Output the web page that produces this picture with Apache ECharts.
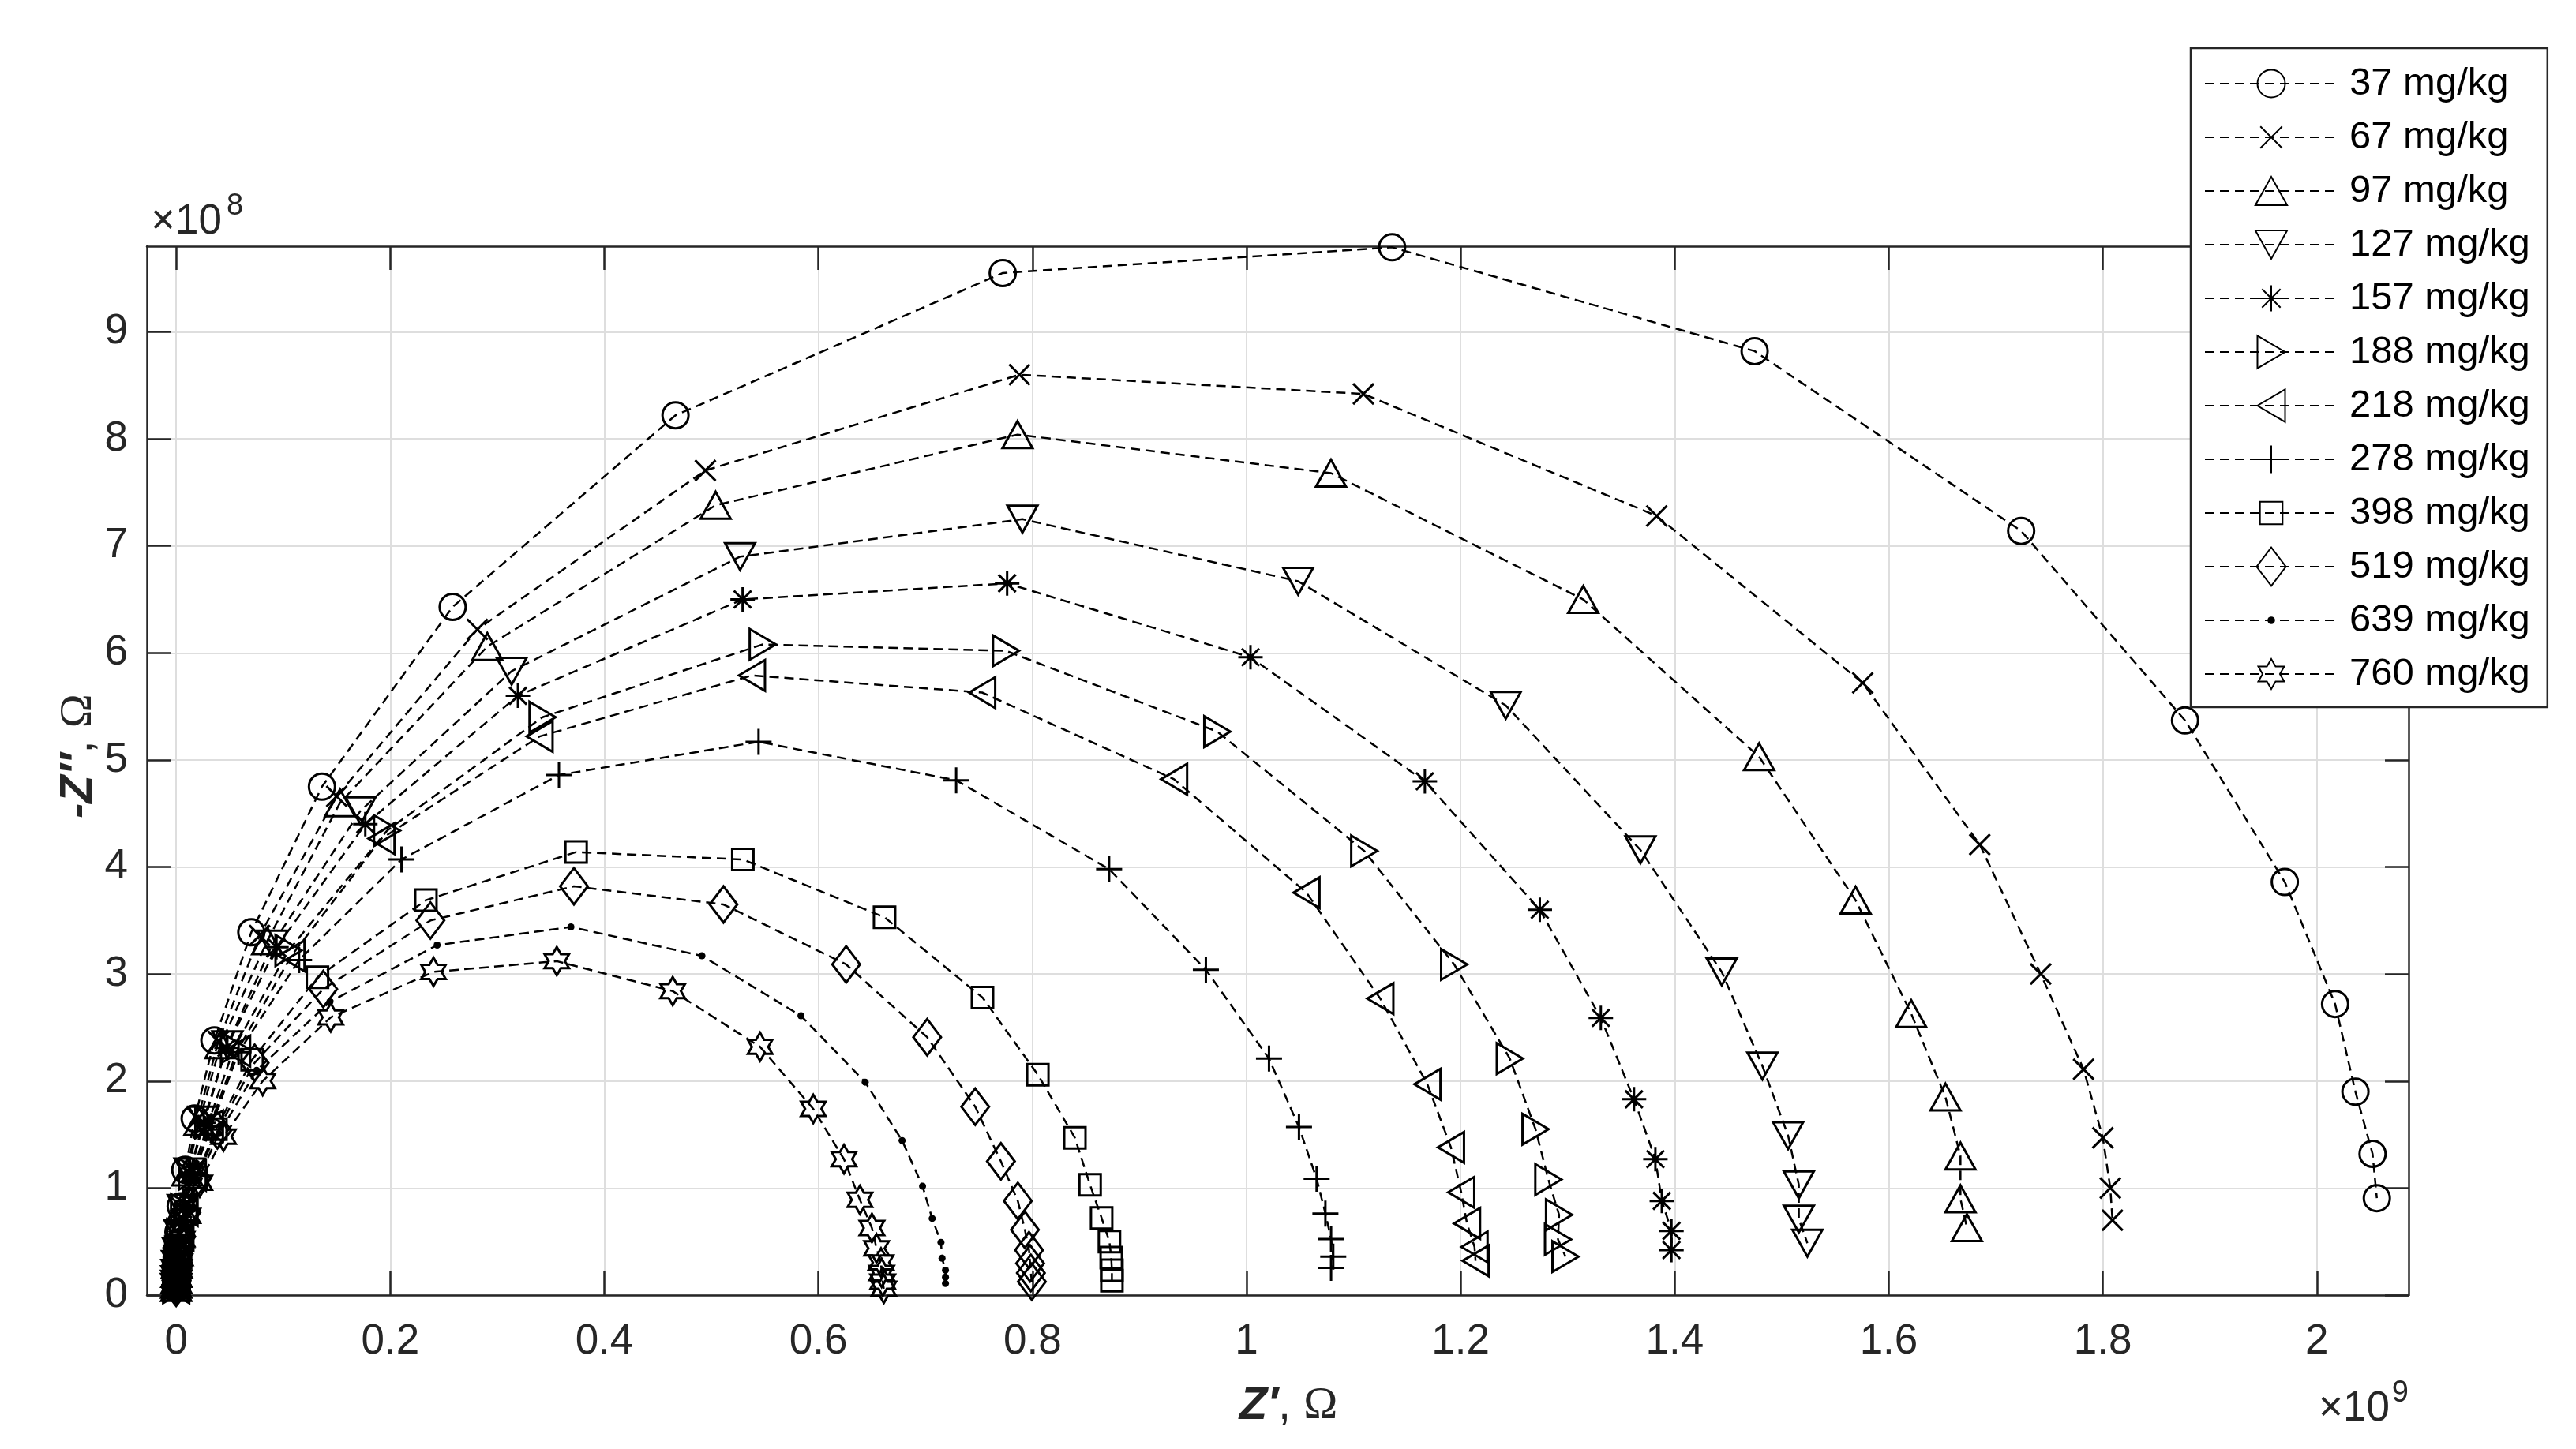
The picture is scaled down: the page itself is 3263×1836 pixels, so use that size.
<!DOCTYPE html>
<html>
<head>
<meta charset="utf-8">
<title>Nyquist plot</title>
<script src="https://cdn.jsdelivr.net/npm/echarts/dist/echarts.min.js"></script>
<style>
  html, body { margin: 0; padding: 0; background: #fff; }
  #chart { width: 3263px; height: 1836px; }
</style>
</head>
<body>
<div id="chart"></div>
<script>
// Z' in 1e9 Ohm, -Z'' in 1e8 Ohm, from high frequency (origin) to low frequency
const s37 = [[0.0000,0.075],[0.0001,0.105],[0.0001,0.15],[0.0003,0.21],[0.0005,0.30],[0.0011,0.42],[0.0021,0.59],[0.0042,0.83],[0.0085,1.17],[0.0173,1.65],[0.0357,2.38],[0.0702,3.39],[0.1362,4.75],[0.2583,6.43],[0.4665,8.22],[0.7722,9.55],[1.136,9.79],[1.4747,8.82],[1.7237,7.14],[1.8768,5.37],[1.970,3.86],[2.017,2.72],[2.036,1.90],[2.052,1.32],[2.056,0.906]]
const s67 = [[0.0000,0.073],[0.0001,0.103],[0.0002,0.145],[0.0003,0.205],[0.0006,0.29],[0.0012,0.41],[0.0025,0.58],[0.0049,0.82],[0.0098,1.16],[0.0202,1.65],[0.0394,2.37],[0.078,3.36],[0.150,4.66],[0.2814,6.22],[0.4944,7.705],[0.7878,8.60],[1.1092,8.42],[1.3832,7.28],[1.5757,5.72],[1.685,4.21],[1.742,3.00],[1.782,2.11],[1.800,1.47],[1.807,1.00],[1.809,0.70]]
const s97 = [[0.0000,0.072],[0.0001,0.101],[0.0002,0.143],[0.0003,0.203],[0.0007,0.287],[0.0013,0.405],[0.0026,0.575],[0.0052,0.81],[0.0105,1.15],[0.0216,1.62],[0.0414,2.34],[0.0851,3.31],[0.1531,4.60],[0.2907,6.06],[0.504,7.38],[0.786,8.04],[1.0789,7.68],[1.3146,6.50],[1.4789,5.03],[1.569,3.69],[1.621,2.63],[1.653,1.85],[1.667,1.30],[1.667,0.90],[1.673,0.63]]
const s127 = [[0.0000,0.072],[0.0001,0.101],[0.0002,0.143],[0.0004,0.202],[0.0008,0.286],[0.0016,0.405],[0.0031,0.573],[0.0062,0.81],[0.0125,1.15],[0.0258,1.635],[0.0479,2.34],[0.090,3.28],[0.1722,4.525],[0.3134,5.83],[0.5268,6.90],[0.7906,7.25],[1.0482,6.67],[1.2422,5.51],[1.368,4.16],[1.444,3.02],[1.482,2.14],[1.506,1.49],[1.516,1.03],[1.516,0.71],[1.524,0.485]]
const s157 = [[0.0000,0.071],[0.0001,0.10],[0.0002,0.141],[0.0004,0.20],[0.0008,0.283],[0.0016,0.40],[0.0032,0.566],[0.0064,0.80],[0.0128,1.14],[0.0258,1.61],[0.047,2.31],[0.0937,3.25],[0.1767,4.40],[0.3193,5.60],[0.5292,6.50],[0.7763,6.65],[1.0037,5.96],[1.1666,4.80],[1.274,3.60],[1.331,2.59],[1.362,1.83],[1.382,1.27],[1.388,0.88],[1.397,0.60],[1.397,0.42]]
const s188 = [[0.0000,0.07],[0.0001,0.10],[0.0002,0.141],[0.0005,0.20],[0.0009,0.282],[0.0019,0.40],[0.0037,0.565],[0.0074,0.80],[0.0148,1.13],[0.0301,1.61],[0.054,2.31],[0.105,3.22],[0.197,4.34],[0.3423,5.40],[0.548,6.08],[0.7753,6.02],[0.9727,5.265],[1.110,4.15],[1.194,3.09],[1.246,2.21],[1.270,1.55],[1.282,1.08],[1.292,0.75],[1.291,0.52],[1.298,0.36]]
const s218 = [[0.0000,0.07],[0.0001,0.099],[0.0002,0.14],[0.0005,0.198],[0.001,0.28],[0.0019,0.395],[0.0039,0.56],[0.0078,0.79],[0.0155,1.12],[0.0315,1.58],[0.0569,2.28],[0.1077,3.17],[0.1918,4.265],[0.3395,5.22],[0.5379,5.79],[0.753,5.63],[0.9323,4.82],[1.056,3.76],[1.125,2.77],[1.169,1.97],[1.191,1.38],[1.2006,0.96],[1.206,0.67],[1.213,0.45],[1.214,0.32]]
const s278 = [[0.0000,0.07],[0.0001,0.098],[0.0003,0.139],[0.0005,0.197],[0.001,0.279],[0.002,0.394],[0.004,0.558],[0.008,0.79],[0.016,1.12],[0.0329,1.58],[0.0583,2.27],[0.1148,3.13],[0.2105,4.07],[0.3576,4.86],[0.5441,5.17],[0.7287,4.81],[0.8716,3.98],[0.962,3.04],[1.021,2.21],[1.049,1.57],[1.0655,1.087],[1.0737,0.762],[1.079,0.523],[1.081,0.36],[1.079,0.254]]
const s398 = [[0.0000,0.069],[0.0001,0.097],[0.0003,0.138],[0.0006,0.195],[0.0012,0.276],[0.0023,0.39],[0.0046,0.552],[0.0092,0.78],[0.0185,1.10],[0.0371,1.55],[0.071,2.20],[0.132,2.97],[0.2333,3.69],[0.3736,4.14],[0.5294,4.07],[0.6618,3.53],[0.7533,2.78],[0.805,2.06],[0.8396,1.47],[0.8538,1.03],[0.8646,0.72],[0.8719,0.50],[0.8736,0.35],[0.8742,0.233],[0.8742,0.135]]
const s519 = [[0.0000,0.068],[0.0001,0.096],[0.0003,0.136],[0.0006,0.193],[0.0012,0.272],[0.0024,0.385],[0.0048,0.545],[0.0095,0.77],[0.019,1.09],[0.0385,1.54],[0.0733,2.17],[0.1374,2.86],[0.2375,3.50],[0.3716,3.82],[0.5113,3.65],[0.6259,3.09],[0.7016,2.41],[0.7465,1.76],[0.7705,1.25],[0.7863,0.88],[0.7929,0.61],[0.7968,0.42],[0.7978,0.296],[0.7985,0.207],[0.7994,0.125]]
const s639 = [[0.0000,0.067],[0.0002,0.095],[0.0003,0.134],[0.0006,0.19],[0.0013,0.269],[0.0025,0.38],[0.005,0.537],[0.010,0.76],[0.020,1.07],[0.040,1.51],[0.0752,2.10],[0.1436,2.74],[0.2438,3.27],[0.3688,3.44],[0.4912,3.17],[0.5837,2.61],[0.6437,1.99],[0.6782,1.444],[0.6973,1.018],[0.7063,0.716],[0.7145,0.493],[0.7155,0.345],[0.7187,0.233],[0.7187,0.168],[0.7187,0.108]]
const s760 = [[0.0001,0.065],[0.0002,0.093],[0.0004,0.131],[0.0007,0.185],[0.0014,0.262],[0.0028,0.37],[0.0055,0.523],[0.011,0.74],[0.022,1.05],[0.0442,1.48],[0.0808,2.00],[0.1444,2.595],[0.2404,3.02],[0.3556,3.12],[0.4639,2.84],[0.5455,2.32],[0.5952,1.74],[0.6239,1.27],[0.6388,0.89],[0.650,0.627],[0.6543,0.437],[0.6585,0.305],[0.6591,0.207],[0.6601,0.125],[0.6611,0.059]]

const names = ['37 mg/kg', '67 mg/kg', '97 mg/kg', '127 mg/kg', '157 mg/kg', '188 mg/kg',
  '218 mg/kg', '278 mg/kg', '398 mg/kg', '519 mg/kg', '639 mg/kg', '760 mg/kg']
const allData = [s37, s67, s97, s127, s157, s188, s218, s278, s398, s519, s639, s760]

const xTicks = [0, 0.2, 0.4, 0.6, 0.8, 1, 1.2, 1.4, 1.6, 1.8, 2]
const yTicks = [0, 1, 2, 3, 4, 5, 6, 7, 8, 9]

// marker outlines drawn in a 46x46 box (the two moves fix the box)
const box = 'path://M0,0M46,46'
const markers = [
  box + 'M6.5,23A16.5,16.5,0,1,1,39.5,23A16.5,16.5,0,1,1,6.5,23Z', // o
  box + 'M10,10L36,36M36,10L10,36', // x
  box + 'M23,6L42,40L4,40Z', // ^
  box + 'M4,6L42,6L23,40Z', // v
  box + 'M23,7.5L23,38.5M7.5,23L38.5,23M12,12L34,34M34,12L12,34', // *
  box + 'M6.5,3.5L39.5,23L6.5,42.5Z', // >
  box + 'M39.5,3.5L6.5,23L39.5,42.5Z', // <
  box + 'M23,6.5L23,39.5M6.5,23L39.5,23', // +
  box + 'M9.5,9.5L36.5,9.5L36.5,36.5L9.5,36.5Z', // square
  box + 'M23,0L40.5,23L23,46L5.5,23Z', // diamond
  box + 'M18.5,23A4.5,4.5,0,1,1,27.5,23A4.5,4.5,0,1,1,18.5,23Z', // .
  box + 'M23,5.1L28.17,14.05L38.5,14.05L33.33,23L38.5,31.95L28.17,31.95L23,40.9L17.83,31.95L7.5,31.95L12.67,23L7.5,14.05L17.83,14.05Z' // hexagram
]

const FONT = '"Liberation Sans", Arial, Helvetica, sans-serif'
const AX = '#262626'

const chart = echarts.init(document.getElementById('chart'))

const series = allData.map((d, i) => ({
  name: names[i],
  type: 'line',
  data: d,
  symbol: markers[i],
  symbolSize: 46,
  clip: false,
  lineStyle: { color: '#000', width: 2.5, type: [12, 7] },
  itemStyle: i === 10
    ? { color: '#000', borderColor: '#000', borderWidth: 0 }
    : { color: 'rgba(0,0,0,0)', borderColor: '#000', borderWidth: 3 },
  emphasis: { disabled: true }
}))

const tickStyle = { color: AX, width: 2.5 }

const option = {
  animation: false,
  backgroundColor: '#fff',
  textStyle: { fontFamily: FONT },
  grid: { left: 186, top: 312, right: 212, bottom: 195, containLabel: false },
  xAxis: [{
    type: 'value',
    position: 'bottom',
    min: -0.0274,
    max: 2.0857,
    axisLine: { show: true, onZero: false, lineStyle: tickStyle },
    axisTick: { show: true, inside: true, length: 30, customValues: xTicks, lineStyle: tickStyle },
    axisLabel: { customValues: xTicks, margin: 33, fontSize: 53, fontFamily: FONT, color: AX,
      formatter: v => String(v) },
    splitLine: { show: true, lineStyle: { color: '#dedede', width: 2 } }
  }, {
    type: 'value',
    position: 'top',
    min: -0.0274,
    max: 2.0857,
    axisLine: { show: true, onZero: false, lineStyle: tickStyle },
    axisTick: { show: true, inside: true, length: 30, customValues: xTicks, lineStyle: tickStyle },
    axisLabel: { show: false },
    splitLine: { show: false }
  }],
  yAxis: [{
    type: 'value',
    position: 'left',
    min: 0,
    max: 9.8,
    axisLine: { show: true, onZero: false, lineStyle: tickStyle },
    axisTick: { show: true, inside: true, length: 30, customValues: yTicks, lineStyle: tickStyle },
    axisLabel: { customValues: yTicks, margin: 24, fontSize: 53, fontFamily: FONT, color: AX },
    splitLine: { show: true, lineStyle: { color: '#dedede', width: 2 } }
  }, {
    type: 'value',
    position: 'right',
    min: 0,
    max: 9.8,
    axisLine: { show: true, onZero: false, lineStyle: tickStyle },
    axisTick: { show: true, inside: true, length: 30, customValues: yTicks, lineStyle: tickStyle },
    axisLabel: { show: false },
    splitLine: { show: false }
  }],
  legend: {
    orient: 'vertical',
    left: 2775,
    top: 61,
    itemWidth: 168,
    itemHeight: 61,
    itemGap: 12,
    padding: [17, 22, 14, 17],
    backgroundColor: '#fff',
    borderColor: AX,
    borderWidth: 2.5,
    textStyle: { fontSize: 49, lineHeight: 56, fontFamily: FONT, color: '#000', padding: [0, 0, 0, 10] },
    data: names
  },
  graphic: [
    { type: 'text', x: 191, y: 281, z: 10,
      style: { text: '×10', font: '53px ' + FONT, fill: AX, align: 'left', verticalAlign: 'middle' } },
    { type: 'text', x: 287, y: 262, z: 10,
      style: { text: '8', font: '38px ' + FONT, fill: AX, align: 'left', verticalAlign: 'middle' } },
    { type: 'text', x: 3027, y: 1785, z: 10,
      style: { text: '×10', font: '53px ' + FONT, fill: AX, align: 'right', verticalAlign: 'middle' } },
    { type: 'text', x: 3051, y: 1766, z: 10,
      style: { text: '9', font: '38px ' + FONT, fill: AX, align: 'right', verticalAlign: 'middle' } },
    { type: 'text', x: 1632, y: 1782, z: 10,
      style: {
        text: '{z|Z′}{c|, }{o|Ω}', align: 'center', verticalAlign: 'middle',
        rich: {
          z: { fontSize: 58, fontFamily: FONT, fontWeight: 'bold', fontStyle: 'italic', fill: AX },
          c: { fontSize: 58, fontFamily: FONT, fill: AX },
          o: { fontSize: 58, fontFamily: '"Liberation Serif", serif', fill: AX }
        }
      } },
    { type: 'text', x: 100, y: 958, z: 10, rotation: Math.PI / 2,
      style: {
        text: '{z|-Z′′}{c|, }{o|Ω}', align: 'center', verticalAlign: 'middle',
        rich: {
          z: { fontSize: 58, fontFamily: FONT, fontWeight: 'bold', fontStyle: 'italic', fill: AX },
          c: { fontSize: 58, fontFamily: FONT, fill: AX },
          o: { fontSize: 58, fontFamily: '"Liberation Serif", serif', fill: AX }
        }
      } }
  ],
  series: series
}

chart.setOption(option)
</script>
</body>
</html>
